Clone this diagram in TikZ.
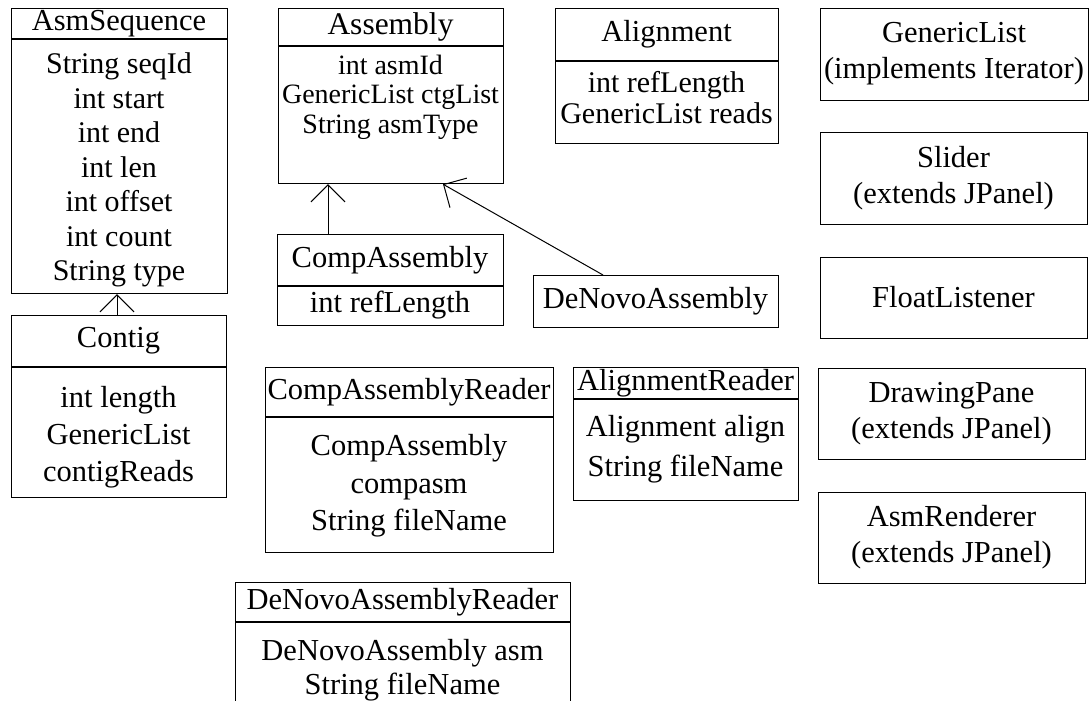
\documentclass[tikz,border=0pt]{standalone}
\usepackage{fontspec}
\setmainfont{Liberation Serif}
\usetikzlibrary{arrows.meta}
\tikzset{
  box/.style={draw, line width=1.2pt, inner sep=0pt, anchor=north west},
  txt/.style={inner sep=0pt, align=center, font=\fontsize{30.5}{36}\selectfont},
  divline/.style={line width=1.2pt},
  inh/.style={line width=1pt, -{Straight Barb[length=17pt,width=34pt,line width=1pt]}}
}
\begin{document}
\begin{tikzpicture}[x=1pt,y=-1pt]
\useasboundingbox (0,0) rectangle (1092,701);
% AsmSequence
\node[box, minimum width=216pt, minimum height=285pt] (asmseq) at (11,8) {};
\draw[divline] ([yshift=-31pt]asmseq.north west) -- ([yshift=-31pt]asmseq.north east);
\node[txt] (asmseqH) at (119,23.5) {AsmSequence};
\node[txt, font=\fontsize{30}{34.5}\selectfont] (asmseqB) at (119,170) {String seqId\\int start\\int end\\int len\\int offset\\int count\\String type};
% Contig
\node[box, minimum width=215pt, minimum height=182pt] (contig) at (11,315) {};
\draw[divline] ([yshift=-52pt]contig.north west) -- ([yshift=-52pt]contig.north east);
\node[txt] (contigH) at (118.5,341) {Contig};
\node[txt, font=\fontsize{30.5}{37}\selectfont] (contigB) at (118.5,437) {int length\\GenericList\\contigReads};
% Assembly
\node[box, minimum width=225pt, minimum height=175pt] (assembly) at (278,8) {};
\draw[divline] ([yshift=-38pt]assembly.north west) -- ([yshift=-38pt]assembly.north east);
\node[txt, font=\fontsize{31.5}{36}\selectfont] (assemblyH) at (390.5,27) {Assembly};
\node[txt, font=\fontsize{28}{29.5}\selectfont] (assemblyB) at (390.5,97) {int asmId\\GenericList ctgList\\String asmType};
% CompAssembly
\node[box, minimum width=226pt, minimum height=91pt] (compasm) at (277,234) {};
\draw[divline] ([yshift=-52pt]compasm.north west) -- ([yshift=-52pt]compasm.north east);
\node[txt] (compasmH) at (390,260) {CompAssembly};
\node[txt] (compasmB) at (390,305) {int refLength};
% DeNovoAssembly
\node[box, minimum width=245pt, minimum height=52pt] (denovo) at (533,275) {};
\node[txt] (denovoT) at (655.5,301) {DeNovoAssembly};
% Alignment
\node[box, minimum width=223pt, minimum height=135pt] (alignment) at (555,8) {};
\draw[divline] ([yshift=-53pt]alignment.north west) -- ([yshift=-53pt]alignment.north east);
\node[txt] (alignmentH) at (666.5,34.5) {Alignment};
\node[txt, font=\fontsize{30}{31}\selectfont] (alignmentB) at (666.5,97.5) {int refLength\\GenericList reads};
% Right column
\node[box, minimum width=268pt, minimum height=92pt] (generic) at (820,8) {};
\node[txt] (genericT) at (954,54) {GenericList\\(implements Iterator)};
\node[box, minimum width=267pt, minimum height=92pt] (slider) at (820,132) {};
\node[txt] (sliderT) at (953.5,178) {Slider\\(extends JPanel)};
\node[box, minimum width=267pt, minimum height=81pt] (floatl) at (820,257) {};
\node[txt] (floatlT) at (953.5,297.5) {FloatListener};
\node[box, minimum width=267pt, minimum height=91pt] (drawing) at (818,368) {};
\node[txt] (drawingT) at (951.5,413.5) {DrawingPane\\(extends JPanel)};
\node[box, minimum width=267pt, minimum height=91pt] (asmr) at (818,492) {};
\node[txt] (asmrT) at (951.5,537.5) {AsmRenderer\\(extends JPanel)};
% CompAssemblyReader
\node[box, minimum width=288pt, minimum height=185pt] (careader) at (265,367) {};
\draw[divline] ([yshift=-50pt]careader.north west) -- ([yshift=-50pt]careader.north east);
\node[txt] (careaderH) at (409,392) {CompAssemblyReader};
\node[txt, font=\fontsize{30.5}{37.5}\selectfont] (careaderB) at (409,486) {CompAssembly\\compasm\\String fileName};
% AlignmentReader
\node[box, minimum width=225pt, minimum height=133pt] (areader) at (573,367) {};
\draw[divline] ([yshift=-32pt]areader.north west) -- ([yshift=-32pt]areader.north east);
\node[txt] (areaderH) at (685.5,383) {AlignmentReader};
\node[txt, font=\fontsize{30.5}{40}\selectfont] (areaderB) at (685.5,449) {Alignment align\\String fileName};
% DeNovoAssemblyReader
\node[box, minimum width=335pt, minimum height=130pt] (dnreader) at (235,582) {};
\draw[divline] ([yshift=-40pt]dnreader.north west) -- ([yshift=-40pt]dnreader.north east);
\node[txt] (dnreaderH) at (402.5,602) {DeNovoAssemblyReader};
\node[txt, font=\fontsize{30.5}{34}\selectfont] (dnreaderB) at (402.5,670) {DeNovoAssembly asm\\String fileName};
% inheritance connectors
\draw[inh] ([xshift=106pt]contig.north west) -- ([xshift=106pt]asmseq.south west);
\draw[inh] ([xshift=51pt]compasm.north west) -- ([xshift=50pt]assembly.south west);
\draw[inh] ([xshift=70pt]denovo.north west) -- ([xshift=165pt]assembly.south west);
\end{tikzpicture}
\end{document}
